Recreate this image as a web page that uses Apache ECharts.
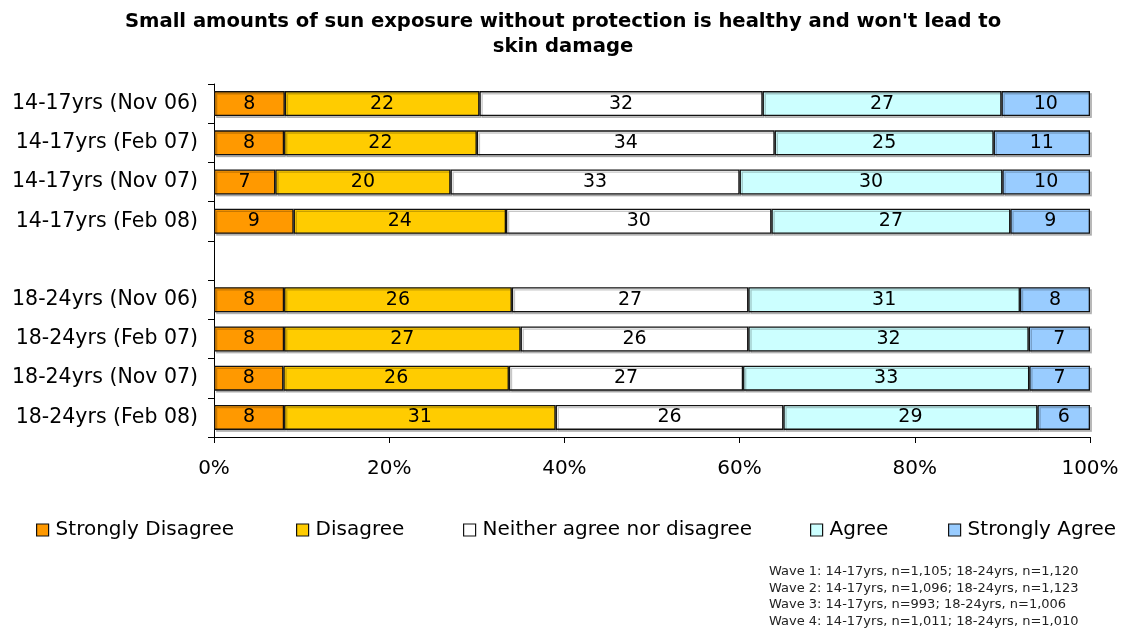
<!DOCTYPE html>
<html>
<head>
<meta charset="utf-8">
<script src="https://cdn.jsdelivr.net/npm/echarts@6/dist/echarts.min.js"></script>
<style>
  html, body { margin: 0; padding: 0; background: #fff; }
  #chart { width: 1126px; height: 631px; }
</style>
</head>
<body>
<div id="chart"></div>
<script>
// Survey waves by age group; the empty entry separates the two groups.
const categories = [
  '14-17yrs (Nov 06)', '14-17yrs (Feb 07)', '14-17yrs (Nov 07)', '14-17yrs (Feb 08)',
  '',
  '18-24yrs (Nov 06)', '18-24yrs (Feb 07)', '18-24yrs (Nov 07)', '18-24yrs (Feb 08)'
];

// Response shares (%) per wave, in the same order as the categories.
const stronglyDisagree = [8, 8, 7, 9, null, 8, 8, 8, 8];
const disagree         = [22, 22, 20, 24, null, 26, 27, 26, 31];
const neither          = [32, 34, 33, 30, null, 27, 26, 27, 26];
const agree            = [27, 25, 30, 27, null, 31, 32, 33, 29];
const stronglyAgree    = [10, 11, 10, 9, null, 8, 7, 7, 6];

const seriesNames = ['Strongly Disagree', 'Disagree', 'Neither agree nor disagree', 'Agree', 'Strongly Agree'];
const seriesColors = ['#FF9900', '#FFCC00', '#FFFFFF', '#CCFFFF', '#99CCFF'];
const valueTicks = [0, 20, 40, 60, 80, 100];

const footnoteLines = [
  'Wave 1: 14-17yrs, n=1,105; 18-24yrs, n=1,120',
  'Wave 2: 14-17yrs, n=1,096; 18-24yrs, n=1,123',
  'Wave 3: 14-17yrs, n=993; 18-24yrs, n=1,006',
  'Wave 4: 14-17yrs, n=1,011; 18-24yrs, n=1,010'
];

const FONT = 'DejaVu Sans, Verdana, sans-serif';
const allSeries = [stronglyDisagree, disagree, neither, agree, stronglyAgree];

// Each bar is scaled to 100% of its row total; labels keep the reported value.
const rowTotals = categories.map((_, i) =>
  allSeries.reduce((s, arr) => s + (arr[i] == null ? 0 : arr[i]), 0));

const series = allSeries.map((arr, k) => ({
  name: seriesNames[k],
  type: 'bar',
  stack: 'total',
  barWidth: 25,
  data: arr.map((v, i) => v == null ? null : { value: v / rowTotals[i] * 100, raw: v }),
  itemStyle: {
    color: seriesColors[k],
    borderColor: '#111',
    borderWidth: 1.3,
    shadowColor: 'rgba(0,0,0,0.22)',
    shadowOffsetX: 2,
    shadowOffsetY: 2,
    shadowBlur: 0
  },
  label: {
    show: true,
    position: 'inside',
    color: '#000',
    fontFamily: FONT,
    fontSize: 19,
    formatter: p => p.data ? String(p.data.raw) : ''
  },
  emphasis: { disabled: true }
}));

const legendX = [36, 296, 463, 810, 948];

const chart = echarts.init(document.getElementById('chart'), null, { renderer: 'canvas' });
chart.setOption({
  backgroundColor: '#fff',
  animation: false,
  title: [
    {
      text: "Small amounts of sun exposure without protection is healthy and won't lead to\nskin damage",
      left: 'center',
      top: 4,
      textStyle: { fontFamily: FONT, fontSize: 19.6, fontWeight: 'bold', color: '#000', lineHeight: 25, align: 'center' }
    },
    {
      text: footnoteLines.join('\n'),
      left: 764,
      top: 558,
      textStyle: { fontFamily: FONT, fontSize: 13, fontWeight: 'normal', color: '#222', lineHeight: 16.8 }
    }
  ],
  legend: seriesNames.map((name, k) => ({
    data: [name],
    left: legendX[k],
    top: 520,
    padding: 0,
    itemWidth: 12,
    itemHeight: 12,
    icon: 'rect',
    selectedMode: false,
    itemStyle: { borderColor: '#111', borderWidth: 1.2, shadowColor: 'transparent' },
    textStyle: { fontFamily: FONT, fontSize: 20, color: '#000', padding: [0, 0, 0, 2] }
  })),
  grid: { left: 214, right: 36, top: 84, bottom: 194, containLabel: false },
  xAxis: {
    type: 'value',
    min: 0,
    max: 100,
    interval: 20,
    axisLine: { show: true, lineStyle: { color: '#000', width: 1 } },
    axisTick: { show: true, length: 6, lineStyle: { color: '#000' } },
    splitLine: { show: false },
    axisLabel: {
      fontFamily: FONT, fontSize: 20, color: '#000', margin: 22,
      formatter: v => valueTicks.includes(v) ? v + '%' : ''
    }
  },
  yAxis: {
    type: 'category',
    data: categories,
    inverse: true,
    axisLine: { show: true, lineStyle: { color: '#000', width: 1 } },
    axisTick: { show: true, length: 6, alignWithLabel: false, lineStyle: { color: '#000' } },
    axisLabel: { fontFamily: FONT, fontSize: 20.5, color: '#000', margin: 16 }
  },
  series: series
});
</script>
</body>
</html>
